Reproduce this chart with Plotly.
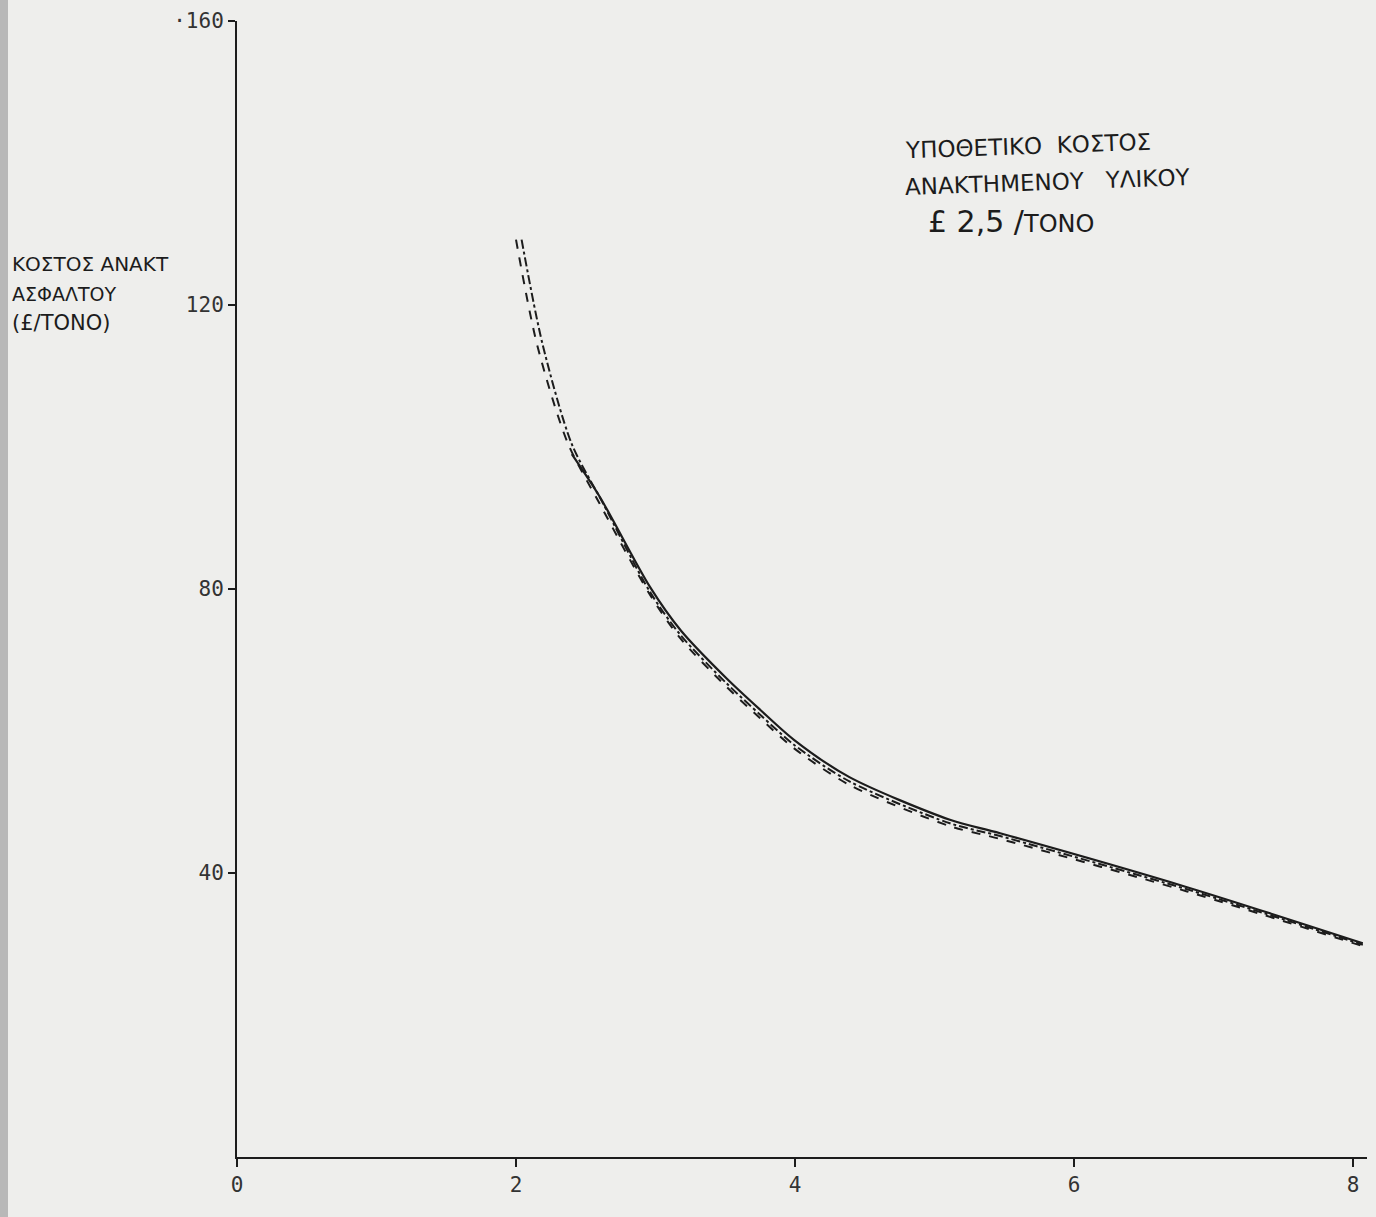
import plotly.graph_objects as go

# ---- data ----
x_ticks = [0, 2, 4, 6, 8]
x_tick_labels = ["0", "2", "4", "6", "8"]
y_ticks = [40, 80, 120, 160]
y_tick_labels = ["40", "80", "120", "·160"]

solid_x = [2.40, 2.60, 2.96, 3.18, 3.51, 3.75, 3.99, 4.39, 5.11, 5.47, 6.81, 8.07]
solid_y = [99.0, 93.0, 80.3, 74.2, 67.4, 63.0, 58.8, 53.5, 47.5, 45.6, 38.0, 30.1]

dash_x = [2.00, 2.15, 2.37, 2.60, 2.96, 3.18, 3.51, 3.75, 3.99, 4.39, 5.11, 5.47, 6.81, 8.07]
dash_y = [129.2, 114.5, 100.6, 92.0, 79.2, 73.0, 66.2, 61.8, 57.6, 52.4, 46.6, 44.8, 37.4, 29.7]

dashdot_x = [2.04, 2.19, 2.40, 2.62, 2.96, 3.18, 3.51, 3.75, 3.99, 4.39, 5.11, 5.47, 6.81, 8.07]
dashdot_y = [129.2, 114.5, 100.4, 92.2, 79.6, 73.5, 66.7, 62.3, 58.1, 52.9, 47.0, 45.2, 37.7, 29.9]

ink = "#1c1c1c"
paper = "#eeeeec"

fig = go.Figure()
fig.add_trace(go.Scatter(x=dash_x, y=dash_y, mode="lines",
                         line=dict(color=ink, width=2, dash="dash", shape="spline", smoothing=0.8),
                         showlegend=False, hoverinfo="skip"))
fig.add_trace(go.Scatter(x=dashdot_x, y=dashdot_y, mode="lines",
                         line=dict(color=ink, width=2, dash="dashdot", shape="spline", smoothing=0.8),
                         showlegend=False, hoverinfo="skip"))
fig.add_trace(go.Scatter(x=solid_x, y=solid_y, mode="lines",
                         line=dict(color=ink, width=2.2, shape="spline", smoothing=0.8),
                         showlegend=False, hoverinfo="skip"))

font_main = "DejaVu Sans Mono, DejaVu Sans, sans-serif"

W, H = 1376, 1217
L, R, T, B = 237, 9, 21, 60
PW, PH = W - L - R, H - T - B


def px(xp):
    return (xp - L) / PW


def py(yp):
    return (H - B - yp) / PH


fig.update_layout(
    width=W, height=H,
    margin=dict(l=L, r=R, t=T, b=B),
    paper_bgcolor=paper, plot_bgcolor=paper,
    font=dict(family=font_main, color="#222222", size=17),
    xaxis=dict(range=[0, 8.1], tickvals=x_ticks, ticktext=x_tick_labels,
               showgrid=False, zeroline=False, showline=True, linecolor=ink,
               linewidth=2, ticks="outside", ticklen=8, tickwidth=1.5,
               tickcolor=ink, tickfont=dict(size=21, color="#333333")),
    yaxis=dict(range=[0, 160], tickvals=y_ticks, ticktext=y_tick_labels,
               showgrid=False, zeroline=False, showline=True, linecolor=ink,
               linewidth=2, ticks="outside", ticklen=7, tickwidth=1.5,
               tickcolor=ink, tickfont=dict(size=21, color="#333333")),
)

# scanned page edge strip
fig.add_shape(type="rect", xref="paper", yref="paper",
              x0=px(0), x1=px(8), y0=py(H), y1=py(0),
              fillcolor="#b8b8b8", line=dict(width=0), layer="below")

hand = "DejaVu Sans, sans-serif"

# y-axis label
fig.add_annotation(xref="paper", yref="paper", x=px(10), y=py(264),
                   xanchor="left", yanchor="middle", showarrow=False,
                   text="ΚΟΣΤΟΣ ΑΝΑΚΤ", font=dict(family=hand, size=20, color=ink))
fig.add_annotation(xref="paper", yref="paper", x=px(10), y=py(294),
                   xanchor="left", yanchor="middle", showarrow=False,
                   text="ΑΣΦΑΛΤΟΥ", font=dict(family=hand, size=19, color=ink))
fig.add_annotation(xref="paper", yref="paper", x=px(10), y=py(323),
                   xanchor="left", yanchor="middle", showarrow=False,
                   text="(£/ΤΟΝΟ)", font=dict(family=hand, size=21, color=ink))

# top-right note
fig.add_annotation(xref="paper", yref="paper", x=px(903), y=py(146),
                   xanchor="left", yanchor="middle", showarrow=False, textangle=-2,
                   text="ΥΠΟΘΕΤΙΚΟ  ΚΟΣΤΟΣ", font=dict(family=hand, size=23, color=ink))
fig.add_annotation(xref="paper", yref="paper", x=px(903), y=py(182),
                   xanchor="left", yanchor="middle", showarrow=False, textangle=-2,
                   text="ΑΝΑΚΤΗΜΕΝΟΥ   ΥΛΙΚΟΥ", font=dict(family=hand, size=23, color=ink))
fig.add_annotation(xref="paper", yref="paper", x=px(926), y=py(221),
                   xanchor="left", yanchor="middle", showarrow=False,
                   text="£ 2,5 /<span style='font-size:24px'>ΤΟΝΟ</span>",
                   font=dict(family=hand, size=30, color=ink))

fig.write_html("out.html",
               config={"displayModeBar": False},
               post_script="document.body.style.margin='0';document.body.style.padding='0';")
